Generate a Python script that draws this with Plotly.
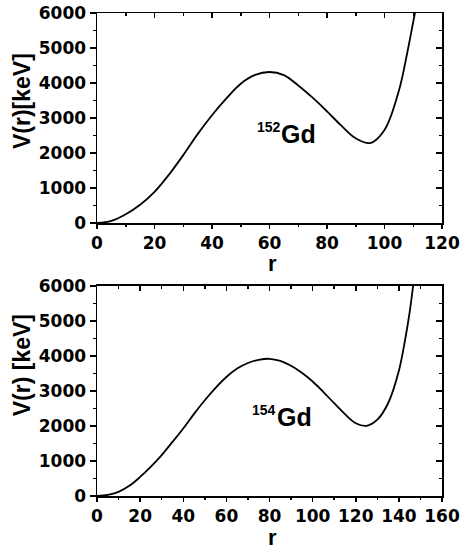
import plotly.graph_objects as go

# ---- data ----
r_152 = [0, 5, 10, 15, 20, 25, 30, 35, 40, 45, 50, 55, 60, 65, 70, 75, 80, 85, 90, 95, 100, 105, 108, 110, 110.6]
v_152 = [0, 60, 250, 520, 890, 1380, 1940, 2540, 3080, 3560, 3980, 4230, 4315, 4225, 3930, 3580, 3190, 2780, 2420, 2285, 2660, 3780, 4900, 5750, 6000]

r_154 = [0, 5, 10, 15, 20, 25, 30, 35, 40, 45, 50, 55, 60, 65, 70, 75, 80, 85, 90, 95, 100, 105, 110, 115, 120, 125, 130, 135, 140, 143, 145, 146.6]
v_154 = [0, 30, 120, 290, 545, 840, 1170, 1545, 1930, 2345, 2735, 3090, 3400, 3640, 3800, 3890, 3920, 3860, 3720, 3520, 3270, 2970, 2650, 2340, 2080, 2005, 2180, 2650, 3580, 4500, 5250, 6000]

x_range_top = [0, 120]
x_range_bot = [0, 160]
y_range = [0, 6000]
x_dtick = 20
y_dtick = 1000
y_title_top = "V(r)[keV]"
y_title_bot = "V(r) [keV]"
x_title = "r"
iso_top = ("152", "Gd")
iso_bot = ("154", "Gd")

TICKFONT = dict(family="DejaVu Sans", size=17, color="black", weight="bold")
LW = 1.5

fig = go.Figure()
line = dict(color="black", width=1.8, shape="spline", smoothing=1.0)
fig.add_trace(go.Scatter(x=r_152, y=v_152, mode="lines", line=line, xaxis="x", yaxis="y",
                         showlegend=False, hoverinfo="skip"))
fig.add_trace(go.Scatter(x=r_154, y=v_154, mode="lines", line=line, xaxis="x2", yaxis="y2",
                         showlegend=False, hoverinfo="skip"))
# invisible copies for the mirrored (inside-tick) axes
fig.add_trace(go.Scatter(x=r_152, y=v_152, mode="lines", line=dict(width=0), opacity=0,
                         xaxis="x3", yaxis="y3", showlegend=False, hoverinfo="skip"))
fig.add_trace(go.Scatter(x=r_154, y=v_154, mode="lines", line=dict(width=0), opacity=0,
                         xaxis="x4", yaxis="y4", showlegend=False, hoverinfo="skip"))

top_dom = [0.5652, 1.0]
bot_dom = [0.0, 0.4348]

COMMON = dict(showgrid=False, zeroline=False, fixedrange=True, automargin=False,
              linecolor="black", linewidth=LW, showline=True, tickwidth=LW, tickcolor="black")


def main_x(rng, anchor):
    return dict(range=rng, domain=[0, 1], anchor=anchor, dtick=x_dtick, tick0=0, mirror=False,
                ticks="outside", ticklen=4,
                minor=dict(dtick=x_dtick / 2, ticks="outside", ticklen=2, tickwidth=LW, tickcolor="black"),
                tickfont=TICKFONT, **COMMON)


def main_y(dom, anchor):
    return dict(range=y_range, domain=dom, anchor=anchor, dtick=y_dtick, tick0=0, mirror=False,
                ticks="outside", ticklen=6,
                minor=dict(dtick=y_dtick / 2, ticks="outside", ticklen=3, tickwidth=LW, tickcolor="black"),
                tickfont=TICKFONT, **COMMON)


def mirror_x(rng, over, anchor):
    return dict(range=rng, overlaying=over, side="top", anchor=anchor, dtick=x_dtick, tick0=0,
                ticks="inside", ticklen=5,
                minor=dict(dtick=x_dtick / 2, ticks="inside", ticklen=3, tickwidth=LW, tickcolor="black"),
                showticklabels=False, **COMMON)


def mirror_y(over, anchor):
    return dict(range=y_range, overlaying=over, side="right", anchor=anchor, dtick=y_dtick, tick0=0,
                ticks="inside", ticklen=6,
                minor=dict(dtick=y_dtick / 2, ticks="inside", ticklen=3, tickwidth=LW, tickcolor="black"),
                showticklabels=False, **COMMON)


TITLEFONT = dict(family="Liberation Sans", size=23, color="black", weight="bold")
RFONT = dict(family="Liberation Sans", size=22, color="black", weight="bold")
GDFONT = dict(family="Liberation Sans", size=25, color="black", weight="bold")
SUPFONT = dict(family="Liberation Sans", size=14, color="black", weight="bold")

annotations = [
    dict(text=y_title_top, textangle=-90, xref="paper", yref="paper", x=-0.217, y=0.818,
         xanchor="center", yanchor="middle", showarrow=False, font=TITLEFONT),
    dict(text=y_title_bot, textangle=-90, xref="paper", yref="paper", x=-0.217, y=0.271,
         xanchor="center", yanchor="middle", showarrow=False, font=TITLEFONT),
    dict(text=x_title, xref="paper", yref="paper", x=0.51, y=0.482,
         xanchor="center", yanchor="middle", showarrow=False, font=RFONT),
    dict(text=x_title, xref="paper", yref="paper", x=0.51, y=-0.086,
         xanchor="center", yanchor="middle", showarrow=False, font=RFONT),
    # isotope labels
    dict(text=iso_top[0], xref="x", yref="y", x=55.0, y=2743, xanchor="left", yanchor="middle",
         showarrow=False, font=SUPFONT),
    dict(text=iso_top[1], xref="x", yref="y", x=63.2, y=2543, xanchor="left", yanchor="middle",
         showarrow=False, font=GDFONT),
    dict(text=iso_bot[0], xref="x2", yref="y2", x=70.8, y=2471, xanchor="left", yanchor="middle",
         showarrow=False, font=SUPFONT),
    dict(text=iso_bot[1], xref="x2", yref="y2", x=82.4, y=2243, xanchor="left", yanchor="middle",
         showarrow=False, font=GDFONT),
]

fig.update_layout(
    width=460, height=552,
    margin=dict(l=97, r=18, t=13, b=56, pad=0, autoexpand=False),
    paper_bgcolor="white", plot_bgcolor="white",
    showlegend=False,
    xaxis=main_x(x_range_top, "y"),
    yaxis=main_y(top_dom, "x"),
    xaxis2=main_x(x_range_bot, "y2"),
    yaxis2=main_y(bot_dom, "x2"),
    xaxis3=mirror_x(x_range_top, "x", "y3"),
    yaxis3=mirror_y("y", "x3"),
    xaxis4=mirror_x(x_range_bot, "x2", "y4"),
    yaxis4=mirror_y("y2", "x4"),
    annotations=annotations,
)

fig.write_html("out.html", config={"displayModeBar": False, "staticPlot": True})
